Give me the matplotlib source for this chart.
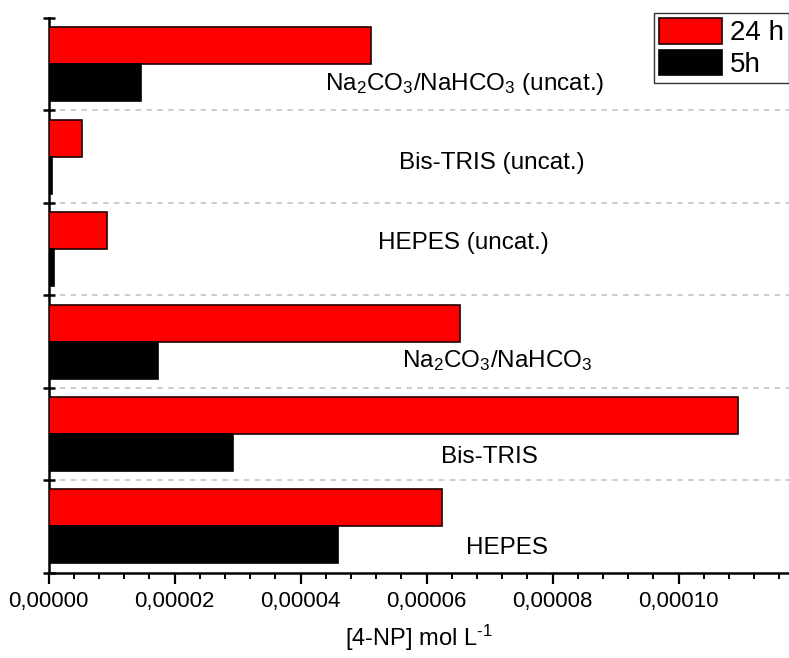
import matplotlib
matplotlib.use("Agg")
import matplotlib.pyplot as plt
from matplotlib.ticker import MultipleLocator, FuncFormatter
import numpy as np

plt.rcParams['font.family'] = ['Liberation Sans', 'DejaVu Sans']
plt.rcParams['mathtext.fontset'] = 'custom'
plt.rcParams['mathtext.rm'] = 'Liberation Sans'
plt.rcParams['mathtext.it'] = 'Liberation Sans'

# bottom to top
categories = ["HEPES", "Bis-TRIS", r"Na$_2$CO$_3$/NaHCO$_3$",
              "HEPES (uncat.)", "Bis-TRIS (uncat.)", r"Na$_2$CO$_3$/NaHCO$_3$ (uncat.)"]
conc_24h = [6.25e-5, 1.094e-4, 6.53e-5, 9.3e-6, 5.3e-6, 5.11e-5]
conc_5h = [4.60e-5, 2.92e-5, 1.73e-5, 8.4e-7, 4.8e-7, 1.46e-5]

# where the category text sits (x in data units, y offset from group centre)
label_x = [7.28e-5, 7.0e-5, 7.12e-5, 6.58e-5, 7.03e-5, 6.61e-5]
label_dy = [-0.23, -0.25, -0.20, 0.07, -0.07, -0.21]

fig = plt.figure(figsize=(7.89, 6.58), dpi=100)
ax = fig.add_axes([48.7 / 789, 1 - 572.7 / 658, 1 - 48.7 / 789, (572.7 - 18) / 658])

y = np.arange(len(categories))
h = 0.4
ax.barh(y + 0.2, conc_24h, height=h, color='#ff0000', edgecolor='#200000', linewidth=1.2, label='24 h', zorder=3)
ax.barh(y - 0.2, conc_5h, height=h, color='black', edgecolor='black', linewidth=1.2, label='5h', zorder=3)

for yi, name, lx, dy in zip(y, categories, label_x, label_dy):
    ax.text(lx, yi + dy, name, ha='center', va='center', fontsize=17.5, zorder=4)

for b in np.arange(0.5, len(categories) - 0.5, 1.0):
    ax.axhline(b, color='#c8c8c8', linestyle=(0, (3, 3)), linewidth=1.3, zorder=1)

ax.set_ylim(-0.5, len(categories) - 0.5)
ax.set_xlim(0, 1.1751e-4)
ax.set_yticks(np.arange(-0.5, len(categories), 1.0))
ax.set_yticklabels([])
ax.tick_params(axis='y', direction='inout', length=9, width=1.8)

ax.xaxis.set_major_locator(MultipleLocator(2e-5))
ax.xaxis.set_minor_locator(MultipleLocator(4e-6))
ax.xaxis.set_major_formatter(FuncFormatter(lambda v, p: f"{v:.5f}".replace('.', ',')))
ax.tick_params(axis='x', which='major', direction='out', length=8, width=1.6, labelsize=16, pad=5)
ax.tick_params(axis='x', which='minor', direction='out', length=4, width=1.4)

for s in ['top', 'right']:
    ax.spines[s].set_visible(False)
for s in ['left', 'bottom']:
    ax.spines[s].set_linewidth(1.8)

ax.set_xlabel(r"[4-NP] mol L$^{\text{-1}}$", fontsize=17, labelpad=8)

leg = ax.legend(loc='upper left', bbox_to_anchor=(654 / 789, 1 - 13.3 / 658),
                bbox_transform=fig.transFigure, fontsize=20, frameon=True,
                fancybox=False, handlelength=2.27, handleheight=1.05, labelspacing=0.12,
                borderpad=0.17, handletextpad=0.29, borderaxespad=0)
leg.get_frame().set_edgecolor('black')
leg.get_frame().set_linewidth(1.0)

fig.savefig("out.png", dpi=100)
